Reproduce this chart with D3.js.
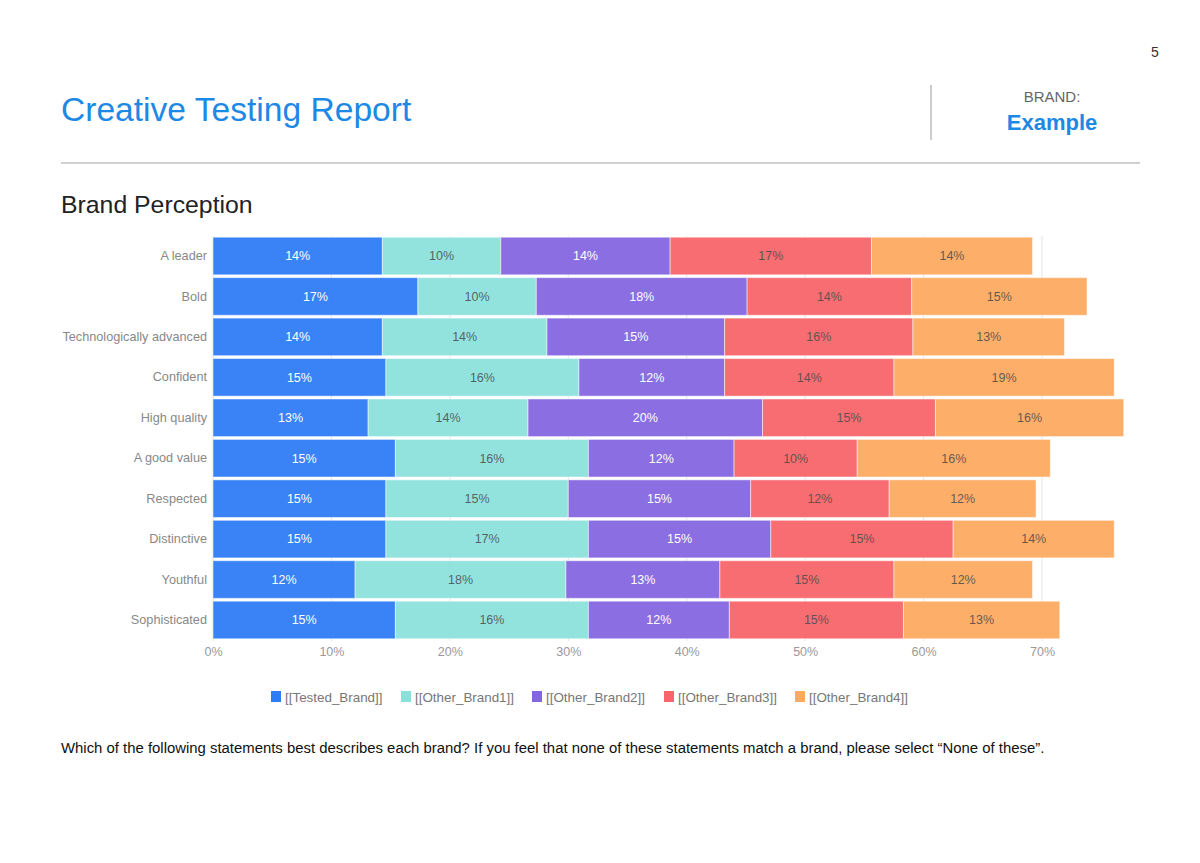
<!DOCTYPE html>
<html><head><meta charset="utf-8">
<script src="https://cdn.jsdelivr.net/npm/d3@7/dist/d3.min.js"></script>
<style>
body{margin:0;background:#fff;font-family:"Liberation Sans",Arial,sans-serif;}
</style></head>
<body>
<svg id="c" width="1200" height="863"></svg>
<script>
const categories = ["A leader","Bold","Technologically advanced","Confident","High quality","A good value","Respected","Distinctive","Youthful","Sophisticated"];
const seriesNames = ["[[Tested_Brand]]","[[Other_Brand1]]","[[Other_Brand2]]","[[Other_Brand3]]","[[Other_Brand4]]"];
const testedBrand = [14.3,17.3,14.3,14.6,13.1,15.4,14.6,14.6,12.0,15.4];
const otherBrand1 = [10.0,10.0,13.9,16.3,13.5,16.3,15.4,17.1,17.8,16.3];
const otherBrand2 = [14.3,17.8,15.0,12.3,19.8,12.3,15.4,15.4,13.0,11.9];
const otherBrand3 = [17.0,13.9,15.9,14.3,14.6,10.4,11.7,15.4,14.7,14.7];
const otherBrand4 = [13.6,14.8,12.8,18.6,15.9,16.3,12.4,13.6,11.7,13.2];
const xTicks = [0,10,20,30,40,50,60,70];
const colors = ["#2e7cf6","#8ce0dc","#8466e0","#f8656a","#fdaa61"];
const labelColors = ["#ffffff","#4a4a4a","#ffffff","#4a4a4a","#4a4a4a"];

const series = [testedBrand,otherBrand1,otherBrand2,otherBrand3,otherBrand4];
const table = categories.map((c,i)=>{const o={cat:c}; seriesNames.forEach((s,j)=>o[s]=series[j][i]); return o;});
const stacked = d3.stack().keys(seriesNames)(table);

const svg = d3.select("#c");
// header
svg.append("text").attr("x",1155).attr("y",57).attr("text-anchor","middle").attr("font-size",14).attr("fill","#333").text("5");
svg.append("text").attr("x",61).attr("y",121).attr("font-size",33.6).attr("fill","#1e88e5").text("Creative Testing Report");
svg.append("line").attr("x1",931).attr("x2",931).attr("y1",85).attr("y2",140).attr("stroke","#ccc").attr("stroke-width",2);
svg.append("text").attr("x",1052).attr("y",102).attr("text-anchor","middle").attr("font-size",15).attr("fill","#666").text("BRAND:");
svg.append("text").attr("x",1052).attr("y",130).attr("text-anchor","middle").attr("font-size",22).attr("font-weight","bold").attr("fill","#1e88e5").text("Example");
svg.append("rect").attr("x",61).attr("y",162).attr("width",1079).attr("height",2).attr("fill","#d0d0d0");
svg.append("text").attr("x",61).attr("y",213).attr("font-size",24.8).attr("fill","#222").text("Brand Perception");

const x = d3.scaleLinear().domain([0,70]).range([213,1042]);
const y = d3.scaleBand().domain(categories).range([236,640]).paddingInner(0.07).paddingOuter(0.03);

// gridlines
svg.append("g").selectAll("line").data(xTicks).join("line")
  .attr("x1",d=>x(d)).attr("x2",d=>x(d)).attr("y1",236).attr("y2",641)
  .attr("stroke","#e3e3e3").attr("stroke-width",1);

// x axis
const xAxis = d3.axisBottom(x).tickValues(xTicks).tickFormat(d=>d+"%").tickSize(0).tickPadding(0);
const gx = svg.append("g").attr("transform","translate(0,656)").call(xAxis);
gx.select(".domain").remove();
gx.selectAll("text").attr("font-size",12.5).attr("fill","#999").attr("font-family","Liberation Sans, Arial, sans-serif").attr("dy","0");

// y axis
const yAxis = d3.axisLeft(y).tickSize(0).tickPadding(6);
const gy = svg.append("g").attr("transform","translate(213,0)").call(yAxis);
gy.select(".domain").remove();
gy.selectAll("text").attr("font-size",12.7).attr("fill","#888").attr("font-family","Liberation Sans, Arial, sans-serif");

// bars
const layers = svg.append("g").selectAll("g").data(stacked).join("g").attr("fill",(d,i)=>colors[i]);
layers.selectAll("rect").data(d=>d).join("rect")
  .attr("x",d=>x(d[0])).attr("width",d=>x(d[1])-x(d[0]))
  .attr("y",d=>y(d.data.cat)).attr("height",y.bandwidth())
  .attr("fill-opacity",0.95).attr("stroke","#fff").attr("stroke-opacity",0.5).attr("stroke-width",1);
layers.selectAll("text").data((d,i)=>d.map(v=>({v,i}))).join("text")
  .attr("x",d=>(x(d.v[0])+x(d.v[1]))/2).attr("y",d=>y(d.v.data.cat)+y.bandwidth()/2)
  .attr("dy","0.35em").attr("text-anchor","middle").attr("font-size",12.5)
  .attr("fill",d=>labelColors[d.i]).attr("fill-opacity",d=>d.i===0||d.i===2?1:0.85)
  .text(d=>Math.round(d.v[1]-d.v[0])+"%");

// legend
const legendX = [271,401,532,664,795];
const lg = svg.append("g").selectAll("g").data(seriesNames).join("g").attr("transform",(d,i)=>`translate(${legendX[i]},691)`);
lg.append("rect").attr("width",10).attr("height",11).attr("fill",(d,i)=>colors[i]);
lg.append("text").attr("x",14).attr("y",10.5).attr("font-size",13.4).attr("fill","#777").text(d=>d);

svg.append("text").attr("x",61).attr("y",753).attr("font-size",14.9).attr("fill","#111")
  .text("Which of the following statements best describes each brand? If you feel that none of these statements match a brand, please select \u201cNone of these\u201d.");
</script>
</body></html>
